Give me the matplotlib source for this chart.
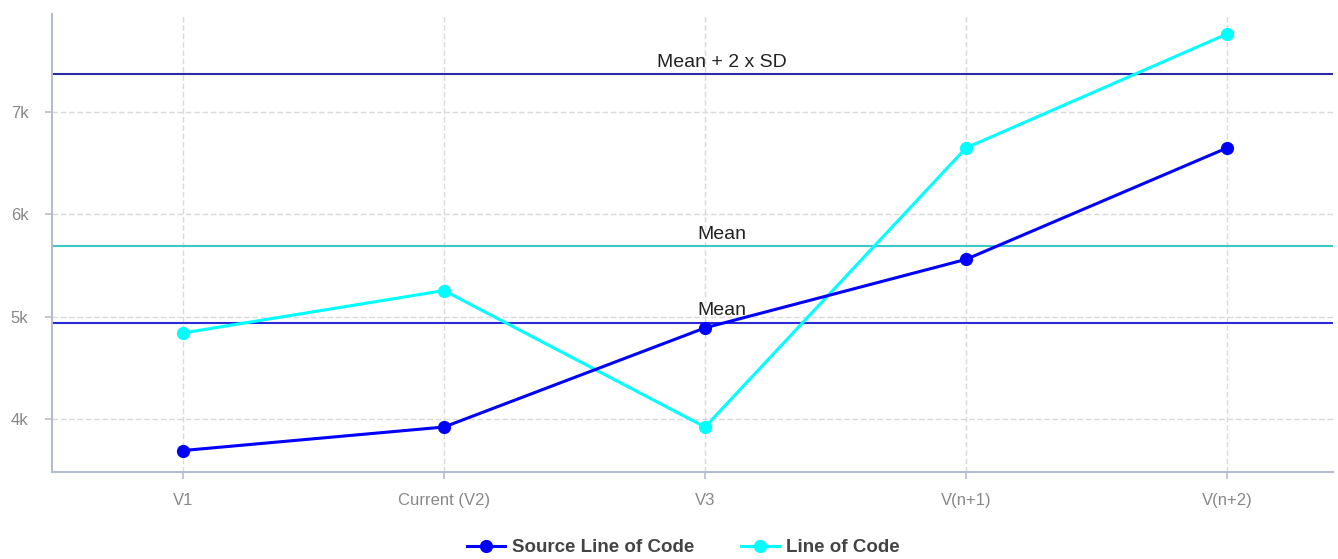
import numpy as np
import matplotlib
matplotlib.use("Agg")
import matplotlib.pyplot as plt
from matplotlib.ticker import FuncFormatter

plt.rcParams["font.family"] = ["Liberation Sans", "DejaVu Sans"]

categories = ["V1", "Current (V2)", "V3", "V(n+1)", "V(n+2)"]
source_loc = [3690, 3920, 4890, 5560, 6650]
line_of_code = [4840, 5255, 3920, 6650, 7765]

src_mean = np.mean(source_loc)
loc_mean = np.mean(line_of_code)
src_upper = src_mean + 2 * np.std(source_loc, ddof=1)

fig = plt.figure(figsize=(13.38, 5.59), dpi=100)
ax = fig.add_axes([52/1338, 1-472/559, (1333-52)/1338, (472-14)/559])

x = np.arange(len(categories))

ax.grid(True, color="#dadada", linestyle=(0, (4, 2)), linewidth=1.0)
ax.set_axisbelow(True)

ax.axhline(src_upper, color="#2a2aa6", linewidth=1.5, zorder=2)
ax.axhline(loc_mean, color="#3cc8c8", linewidth=1.5, zorder=2)
ax.axhline(src_mean, color="#2a2ad6", linewidth=1.5, zorder=2)

txt_x = 2.065
afont = {"size": 14}
ax.text(txt_x, src_upper + 30, "Mean + 2 x SD", ha="center", va="bottom", color="#222222", fontdict=afont)
ax.text(txt_x, loc_mean + 30, "Mean", ha="center", va="bottom", color="#222222", fontdict=afont)
ax.text(txt_x, src_mean + 30, "Mean", ha="center", va="bottom", color="#222222", fontdict=afont)

ax.plot(x, source_loc, color="#0000ff", linewidth=2.2, marker="o", markersize=8.5,
        label="Source Line of Code", zorder=4)
ax.plot(x, line_of_code, color="#00ffff", linewidth=2.2, marker="o", markersize=8.5,
        label="Line of Code", zorder=3)

ax.set_xlim(-0.502, 4.406)
ax.set_ylim(3480, 7960)
ax.set_xticks(x)
ax.set_xticklabels(categories)
ax.set_yticks([4000, 5000, 6000, 7000])
ax.yaxis.set_major_formatter(FuncFormatter(lambda v, p: f"{int(v/1000)}k"))

for s in ["top", "right"]:
    ax.spines[s].set_visible(False)
for s in ["left", "bottom"]:
    ax.spines[s].set_color("#b5bccb")
    ax.spines[s].set_linewidth(1.5)
ax.tick_params(axis="both", colors="#b5bccb", labelcolor="#888888", labelsize=12, length=5, width=1.2)
ax.tick_params(axis="x", pad=10)
ax.tick_params(axis="y", pad=12)

leg = fig.legend(loc="lower center", bbox_to_anchor=(0.511, -0.025), ncol=2, frameon=False,
                 prop={"weight": "bold", "size": 13.5},
                 handlelength=2.0, columnspacing=2.5, handletextpad=0.4)
for t in leg.get_texts():
    t.set_color("#444444")

fig.savefig("out.png", dpi=100)
